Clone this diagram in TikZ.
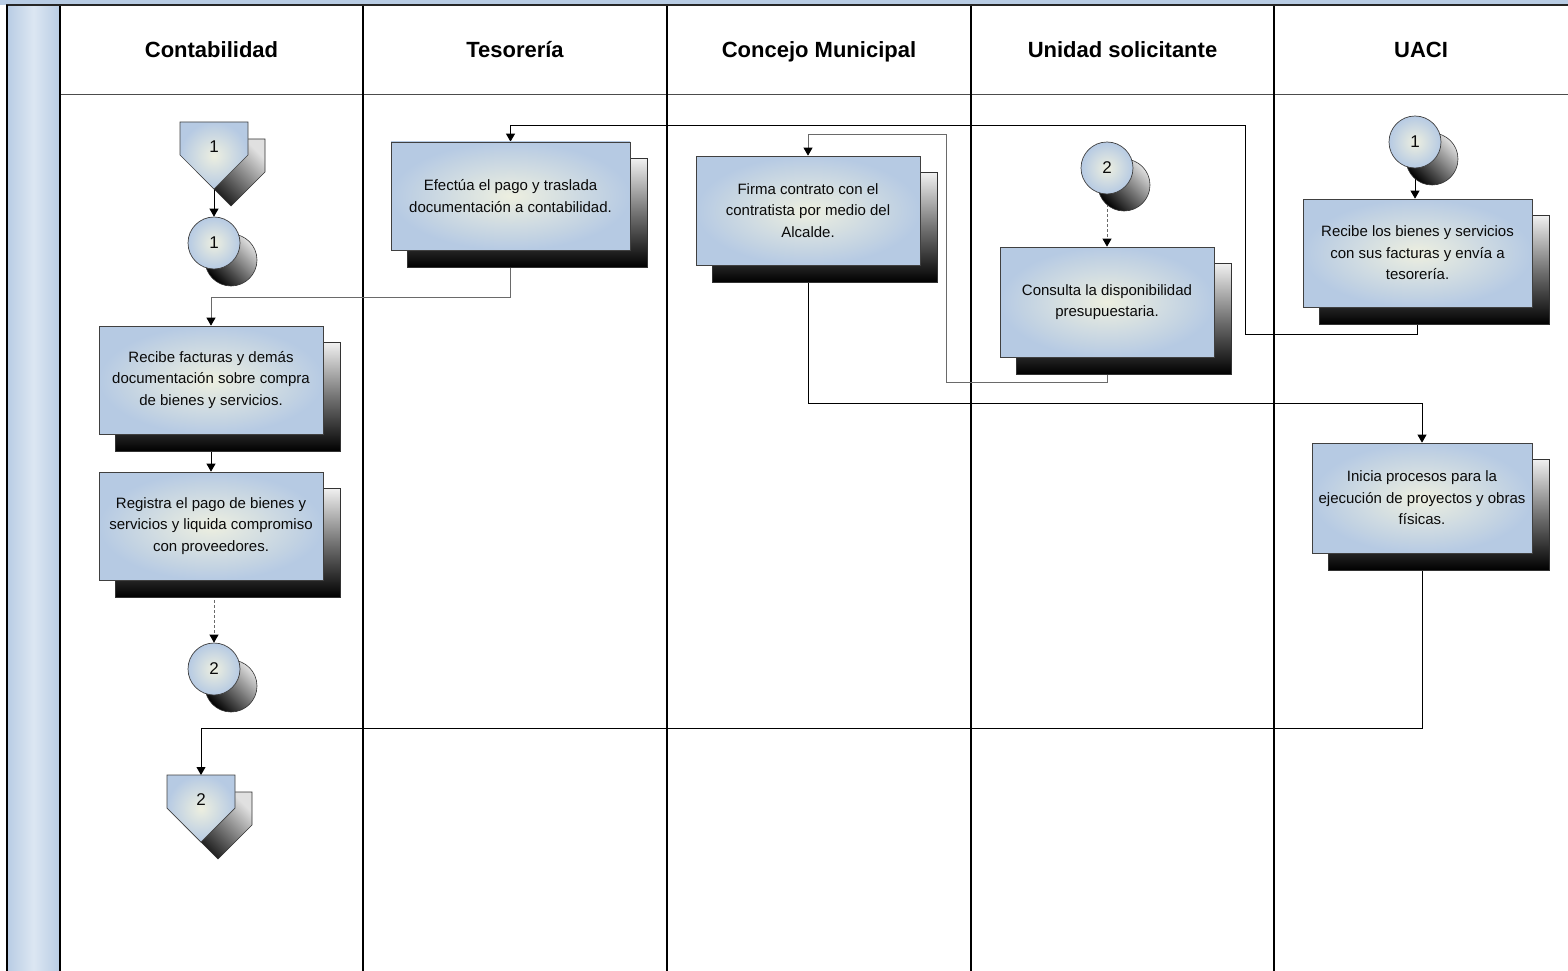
\documentclass[tikz,border=0pt]{standalone}
\usepackage{fontspec}
\setmainfont{Liberation Sans}
\usetikzlibrary{arrows.meta}

\definecolor{laneblue}{HTML}{B8CCE4}
\definecolor{lanelight}{HTML}{DCE6F2}
\definecolor{boxout}{HTML}{B6CAE3}
\definecolor{boxin}{HTML}{EDEFE0}
\definecolor{ink}{HTML}{0A0A0A}
\definecolor{linkgray}{HTML}{6A6A6A}

\pgfdeclarelayer{lanes}
\pgfdeclarelayer{links}
\pgfdeclarelayer{shadows}
\pgfsetlayers{lanes,links,shadows,main}

% process box with its drop shadow: name, cx, cy, width, height, text
\newcommand\procbox[6]{%
  \node[procbox, minimum width=#4pt, minimum height=#5pt] (#1) at (#2,#3) {#6};
  \begin{pgfonlayer}{shadows}
    \path[boxshadow] ([shift={(17,17)}]#1.north west) rectangle ([shift={(17,17)}]#1.south east);
  \end{pgfonlayer}}

% on-page connector (circle) with shadow: name, cx, cy, label
\newcommand\oncirc[4]{%
  \node[conncirc] (#1) at (#2,#3) {#4};
  \begin{pgfonlayer}{shadows}
    \path[diagshadow] ([shift={(17,17)}]#1.center) circle[radius=26pt];
  \end{pgfonlayer}}

% off-page connector (pentagon) with shadow: name, cx, top y, label
\newcommand\offpage[4]{%
  \begin{pgfonlayer}{shadows}
    \path[diagshadow] (#2-17,#3+17) -- (#2+51,#3+17) -- (#2+51,#3+50) -- (#2+17,#3+84) -- (#2-17,#3+50) -- cycle;
  \end{pgfonlayer}
  \path[pentfill] (#2-34,#3) -- (#2+34,#3) -- (#2+34,#3+33) -- (#2,#3+67) -- (#2-34,#3+33) -- cycle;
  \node[numtext] (#1) at (#2,#3+25) {#4};
  \coordinate (#1-top) at (#2,#3);
  \coordinate (#1-tip) at (#2,#3+67);}

\begin{document}
\begin{tikzpicture}[x=1pt,y=-1pt,
  lane/.style={line width=1.2pt, draw=black},
  title/.style={font=\fontsize{22}{26}\selectfont\bfseries, text=black, inner sep=0pt, anchor=base},
  procbox/.style={draw=black!75, line width=0.7pt, inner color=boxin, outer color=boxout,
    inner sep=2pt, align=center, font=\fontsize{15}{21.5}\selectfont, text=ink},
  boxshadow/.style={draw=black!80, line width=0.6pt, top color=black!6, bottom color=black, middle color=black!55},
  conncirc/.style={circle, draw=black!75, line width=0.7pt, inner color=boxin, outer color=boxout,
    minimum size=52pt, inner sep=0pt, font=\fontsize{17}{20}\selectfont, text=ink},
  diagshadow/.style={draw=black!80, line width=0.6pt, top color=black!12, bottom color=black, shading angle=-45},
  pentfill/.style={draw=black!75, line width=0.7pt, inner color=boxin, outer color=boxout},
  numtext/.style={font=\fontsize{17}{20}\selectfont, text=ink, inner sep=0pt},
  link/.style={line width=0.8pt, draw=black, -{Triangle[length=8pt,width=9pt,color=black]}},
  glink/.style={link, draw=linkgray},
  dlink/.style={link, draw=linkgray, dash pattern=on 3pt off 2pt}]

\useasboundingbox (0,0) rectangle (1568,971);

% ---- swimlane frame ----
\begin{pgfonlayer}{lanes}
  \fill[laneblue] (0,0) rectangle (1568,5);
  \shade[left color=laneblue, right color=laneblue, middle color=lanelight] (7,6) rectangle (60,971);
  \draw[line width=2pt, draw=black!85] (6,5.5) -- (1568,5.5);
  \draw[line width=1.5pt] (7,5) -- (7,971);
  \draw[line width=1pt, draw=black!70] (60,95) -- (1568,95);
  \foreach \xx in {60,363,667,971,1274} \draw[lane] (\xx,6) -- (\xx,971);
\end{pgfonlayer}

\node[title] (t1) at (211.5,58) {Contabilidad};
\node[title] (t2) at (515,58) {Tesorería};
\node[title] (t3) at (819,58) {Concejo Municipal};
\node[title] (t4) at (1122.5,58) {Unidad solicitante};
\node[title] (t5) at (1421,58) {UACI};

% ---- Contabilidad ----
\offpage{op1}{214}{122}{1}
\oncirc{ca1}{214}{243}{1}
\procbox{rfact}{211}{380}{224}{108}{Recibe facturas y demás\\documentación sobre compra\\de bienes y servicios.}
\procbox{registra}{211}{526}{224}{108}{Registra el pago de bienes y\\servicios y liquida compromiso\\con proveedores.}
\oncirc{ca2}{214}{669}{2}
\offpage{op2}{201}{775}{2}

% ---- Tesorería ----
\procbox{efectua}{510.5}{196}{239}{108}{Efectúa el pago y traslada\\documentación a contabilidad.}

% ---- Concejo Municipal ----
\procbox{firma}{808}{210.5}{224}{109}{Firma contrato con el\\contratista por medio del\\Alcalde.}

% ---- Unidad solicitante ----
\oncirc{us2}{1107}{168}{2}
\procbox{consulta}{1107}{302}{214}{110}{Consulta la disponibilidad\\presupuestaria.}

% ---- UACI ----
\oncirc{ua1}{1415}{142}{1}
\procbox{rbienes}{1417.5}{253}{229}{108}{Recibe los bienes y servicios\\con sus facturas y envía a\\tesorería.}
\procbox{inicia}{1422}{498}{220}{110}{Inicia procesos para la\\ejecución de proyectos y obras\\físicas.}

% ---- connectors ----
\begin{pgfonlayer}{links}
  \draw[link] (op1-tip) -- (ca1.north);
  \draw[link] (ua1.south) -- (ua1.south |- rbienes.north);
  \draw[link] (rbienes.south) -- (rbienes.south |- 0,334) -- (1245,334) -- (1245,125)
     -- (efectua.north |- 0,125) -- (efectua.north);
  \draw[glink] (efectua.south) -- (efectua.south |- 0,297) -- (rfact.north |- 0,297) -- (rfact.north);
  \draw[link] (rfact.south) -- (registra.north);
  \draw[dlink] (ca2.north |- registra.south) -- (ca2.north);
  \draw[dlink] (us2.south) -- (us2.south |- consulta.north);
  \draw[glink] (consulta.south) -- (consulta.south |- 0,382) -- (946,382) -- (946,134)
     -- (firma.north |- 0,134) -- (firma.north);
  \draw[link] (firma.south) -- (firma.south |- 0,403) -- (inicia.north |- 0,403) -- (inicia.north);
  \draw[link] (inicia.south) -- (inicia.south |- 0,728) -- (op2-top |- 0,728) -- (op2-top);
\end{pgfonlayer}

\end{tikzpicture}
\end{document}
